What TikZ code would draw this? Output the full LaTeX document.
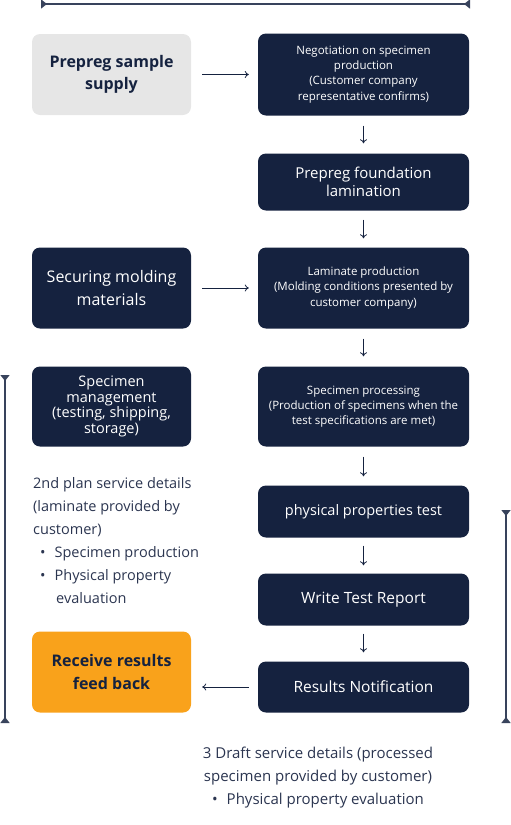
\documentclass[tikz,border=0pt]{standalone}
\usepackage{fontspec}
\setmainfont{Open Sans}
\usetikzlibrary{arrows.meta, positioning}
\definecolor{navyBox}{HTML}{15223F}
\definecolor{grayBox}{HTML}{E6E6E6}
\definecolor{orangeBox}{HTML}{F9A21B}
\definecolor{noteText}{HTML}{2B3550}

\tikzset{
  darkbox/.style={fill=navyBox, text=white, rounded corners=8pt, align=center,
    inner sep=0pt, minimum width=211pt},
  sidebox/.style={rounded corners=8pt, align=center, inner sep=0pt,
    minimum width=159pt, minimum height=81pt},
  flow/.style={-{To[length=4pt,width=7pt]}, navyBox, line width=0.8pt},
  span/.style={{Triangle[reversed,length=6pt,width=9pt]}-{Triangle[reversed,length=6pt,width=9pt]},
    navyBox!85, line width=1.4pt},
  bigtxt/.style={font=\fontsize{16}{22.5}\selectfont},
  midtxt/.style={font=\fontsize{14.5}{18}\selectfont},
  smalltxt/.style={font=\fontsize{11.5}{15.3}\selectfont},
}

\begin{document}
\begin{tikzpicture}[x=1pt, y=-1pt]
    \useasboundingbox (0,0) rectangle (511,825);

    % Spans
    \coordinate (topL) at (41,4);
    \coordinate (topR) at (470,4);
    \draw[span] (topL) -- (topR);
    \coordinate (leftT) at (5,375);
    \coordinate (leftB) at (5,723);
    \draw[span] (leftT) -- (leftB);
    \coordinate (rightT) at (506,510);
    \coordinate (rightB) at (506,723);
    \draw[span] (rightT) -- (rightB);

    % Left column
    \node[sidebox, fill=grayBox, text=navyBox, bigtxt] (supply) at (111.5,74.5)
      {\bfseries Prepreg sample\\\bfseries supply};
    \node[sidebox, fill=navyBox, text=white, bigtxt] (secure) at (111.5,288)
      {Securing molding\\materials};
    \node[sidebox, fill=navyBox, text=white, minimum height=80pt,
      font=\fontsize{14.5}{15.5}\selectfont] (mgmt) at (111.5,406.5)
      {Specimen\\management\\(testing, shipping,\\storage)};
    \node[sidebox, fill=orangeBox, text=navyBox, bigtxt] (receive) at (111.5,672)
      {\bfseries Receive results\\\bfseries feed back};

    % Right column
    \node[darkbox, minimum height=82pt, smalltxt] (nego) at (363.5,74.5)
      {Negotiation on specimen\\production\\(Customer company\\representative confirms)};
    \node[darkbox, minimum height=57pt, font=\fontsize{15}{18.5}\selectfont] (lam) at (363.5,182)
      {Prepreg foundation\\lamination};
    \node[darkbox, minimum height=81pt, smalltxt] (laminate) at (363.5,288)
      {Laminate production\\(Molding conditions presented by\\customer company)};
    \node[darkbox, minimum height=80pt, smalltxt] (proc) at (363.5,406.5)
      {Specimen processing\\(Production of specimens when the\\test specifications are met)};
    \node[darkbox, minimum height=52pt, midtxt] (phys) at (363.5,511.5)
      {physical properties test};
    \node[darkbox, minimum height=52pt, font=\fontsize{15.5}{18}\selectfont] (report) at (363.5,599.5)
      {Write Test Report};
    \node[darkbox, minimum height=51pt, font=\fontsize{15.5}{18}\selectfont] (notify) at (363.5,687)
      {Results Notification};

    % Notes
    \node[anchor=north west, text=noteText, align=left, inner sep=0pt,
      font=\fontsize{14.5}{23}\selectfont] (plan2) at (33,477)
      {2nd plan service details\\(laminate provided by\\customer)\\
       \hspace*{7pt}\textbullet\hspace*{9pt}Specimen production\\
       \hspace*{7pt}\textbullet\hspace*{9pt}Physical property\\
       \hspace*{23pt}evaluation};
    \node[anchor=north, text=noteText, align=center, inner sep=0pt,
      font=\fontsize{15}{23}\selectfont] (draft3) at (318,747)
      {3 Draft service details (processed\\specimen provided by customer)\\
       \textbullet\hspace*{9pt}Physical property evaluation};

    % Flow
    \draw[flow, shorten <=11pt, shorten >=9pt] (supply.east |- nego) -- (nego);
    \draw[flow, shorten <=11pt, shorten >=9pt] (secure) -- (laminate);
    \draw[flow, shorten <=10pt, shorten >=10pt] (nego) -- (lam);
    \draw[flow, shorten <=9pt, shorten >=9pt] (lam) -- (laminate);
    \draw[flow, shorten <=10pt, shorten >=10pt] (laminate) -- (proc);
    \draw[flow, shorten <=10pt, shorten >=9pt] (proc) -- (phys);
    \draw[flow, shorten <=8pt, shorten >=8pt] (phys) -- (report);
    \draw[flow, shorten <=8pt, shorten >=9pt] (report) -- (notify);
    \draw[flow, shorten <=9pt, shorten >=11pt] (notify.west) -- (receive.east |- notify.west);
  \end{tikzpicture}
\end{document}
